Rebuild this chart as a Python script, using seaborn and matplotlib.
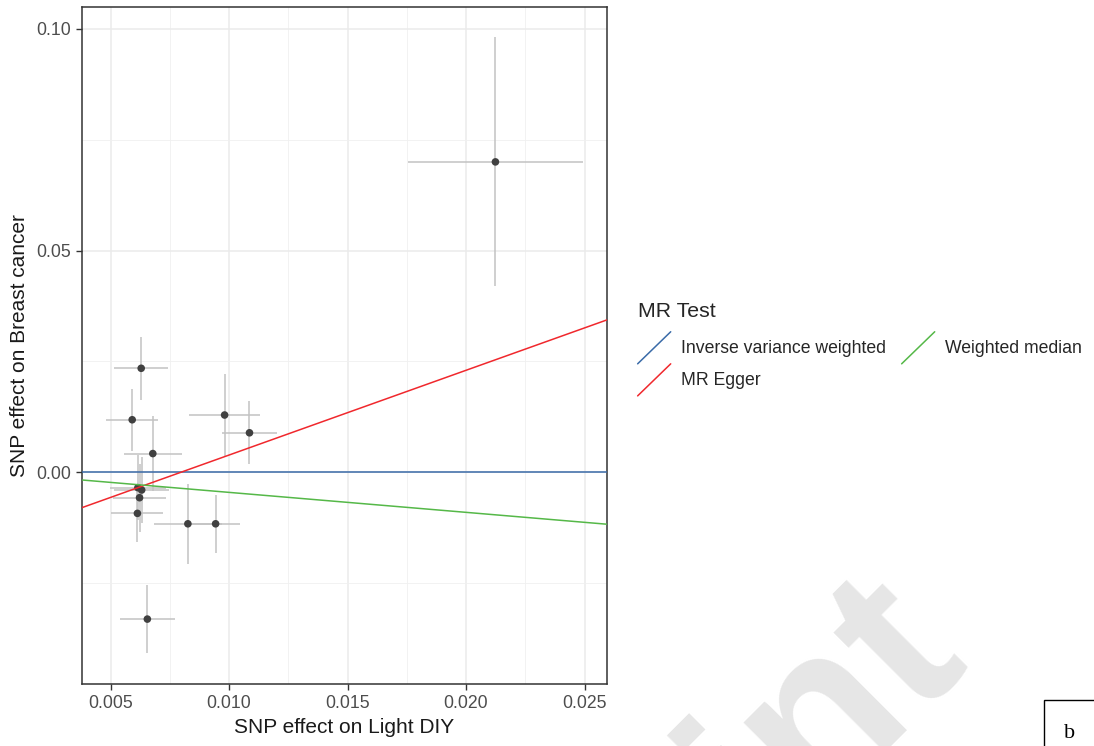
import numpy as np
import pandas as pd
import matplotlib
matplotlib.use("Agg")
import matplotlib.pyplot as plt
import seaborn as sns
from matplotlib.legend_handler import HandlerBase
from matplotlib.lines import Line2D
from matplotlib.patches import Rectangle

# ---- data ----
snp_x = [0.00629, 0.00591, 0.00981, 0.01086, 0.00678, 0.00615, 0.00631,
         0.00622, 0.00613, 0.00826, 0.00943, 0.00655, 0.02124]
snp_y = [0.02347, 0.01187, 0.01294, 0.00893, 0.00425, -0.00344, -0.00396,
         -0.00570, -0.00923, -0.01158, -0.01158, -0.03306, 0.06999]
se_x = [0.00113, 0.00110, 0.00150, 0.00116, 0.00122, 0.00117, 0.00117,
        0.00113, 0.00110, 0.00143, 0.00102, 0.00116, 0.00369]
se_y = [0.00708, 0.00694, 0.00923, 0.00706, 0.00837, 0.00735, 0.00750,
        0.00769, 0.00656, 0.00898, 0.00651, 0.00769, 0.02804]

methods = ["Inverse variance weighted", "MR Egger", "Weighted median"]
intercepts = [0.0, -0.01518, 0.0]
slopes = [0.0, 1.91, -0.45]
method_colors = ["#3A6BA8", "#F0282D", "#55B848"]

x_ticks = [0.005, 0.010, 0.015, 0.020, 0.025]
x_labels = ["0.005", "0.010", "0.015", "0.020", "0.025"]
y_ticks = [0.00, 0.05, 0.10]
y_labels = ["0.00", "0.05", "0.10"]

x_title = "SNP effect on Light DIY"
y_title = "SNP effect on Breast cancer"
legend_title = "MR Test"

df = pd.DataFrame({"x": snp_x, "y": snp_y, "sx": se_x, "sy": se_y})

sns.set_style("white")
plt.rcParams["font.family"] = ["Liberation Sans", "DejaVu Sans"]

W, H = 1094, 746
fig = plt.figure(figsize=(W / 100, H / 100), dpi=100)
L, R, T, B = 82.3, 606.7, 6.7, 684.0
ax = fig.add_axes([L / W, 1 - B / H, (R - L) / W, (B - T) / H])

# error bars
ax.errorbar(df["x"], df["y"], xerr=df["sx"], yerr=df["sy"], fmt="none",
            ecolor="#c2c2c2", elinewidth=1.1, capsize=0, zorder=2)
# points
sns.scatterplot(data=df, x="x", y="y", color="#404040", s=30,
                edgecolor="none", ax=ax, zorder=3, legend=False)
# MR lines
for m, b0, b1, c in zip(methods, intercepts, slopes, method_colors):
    ax.axline((0.0, b0), slope=b1, color=c, lw=1.1, zorder=4, label=m)

ax.set_xticks(x_ticks)
ax.set_xticklabels(x_labels)
ax.set_yticks(y_ticks)
ax.set_yticklabels(y_labels)
xs = x_ticks[1] - x_ticks[0]
ys = y_ticks[1] - y_ticks[0]
ax.set_xticks(np.arange(x_ticks[0] - xs / 2, x_ticks[-1] + xs, xs), minor=True)
ax.set_yticks(np.arange(y_ticks[0] - ys / 2, y_ticks[-1] + ys, ys), minor=True)

# limits with 5% expansion, like ggplot (set after ticks)
xlo = (df["x"] - df["sx"]).min(); xhi = (df["x"] + df["sx"]).max()
ylo = (df["y"] - df["sy"]).min(); yhi = (df["y"] + df["sy"]).max()
ax.set_xlim(xlo - 0.05 * (xhi - xlo), xhi + 0.05 * (xhi - xlo))
ax.set_ylim(ylo - 0.05 * (yhi - ylo), yhi + 0.05 * (yhi - ylo))

ax.grid(which="major", color="#ebebeb", lw=1.1, zorder=0)
ax.grid(which="minor", color="#f0f0f0", lw=0.6, zorder=0)
ax.set_axisbelow(True)
ax.tick_params(which="minor", length=0)
ax.tick_params(which="major", length=4, width=1.0, color="#333333",
               labelcolor="#4D4D4D", labelsize=12.7, pad=4,
               bottom=True, left=True)
for s in ax.spines.values():
    s.set_color("#333333")
    s.set_linewidth(1.1)

ax.set_xlabel(x_title, fontsize=15, color="#1a1a1a", labelpad=4)
ax.set_ylabel(y_title, fontsize=15, color="#1a1a1a", labelpad=5)


class DiagHandler(HandlerBase):
    def create_artists(self, legend, orig_handle, xdescent, ydescent,
                       width, height, fontsize, trans):
        ln = Line2D([-xdescent, -xdescent + width],
                    [-ydescent, -ydescent + height],
                    color=orig_handle.get_color(),
                    lw=orig_handle.get_linewidth(), transform=trans)
        return [ln]


handles, labels = ax.get_legend_handles_labels()
leg = fig.legend(handles, labels, ncol=2, title=legend_title, loc="upper left",
                 bbox_to_anchor=(620 / W, 1 - 284 / H), frameon=False,
                 fontsize=12.7, title_fontsize=15.3, handlelength=1.875,
                 handleheight=2.42, handletextpad=0.6, columnspacing=0.87,
                 labelspacing=0, borderpad=0.5, alignment="left",
                 handler_map={Line2D: DiagHandler()})
leg._legend_box.sep = 8

# watermark
fig.text(968 / W, 1 - 655 / H, "Preprint", rotation=45, rotation_mode="anchor",
         ha="right", va="baseline", fontsize=165, fontweight="bold",
         color="#e6e6e6", family="Liberation Sans", zorder=0)

# panel letter box
fig.patches.append(Rectangle((1044 / W, -0.01), 0.1, 0.01 + (H - 700) / H,
                             transform=fig.transFigure, fill=False,
                             edgecolor="black", lw=1.0))
fig.text(1070 / W, 1 - 733 / H, "b", family="Liberation Serif", fontsize=16,
         ha="center", va="center", color="black")

fig.savefig("out.png", dpi=100)
